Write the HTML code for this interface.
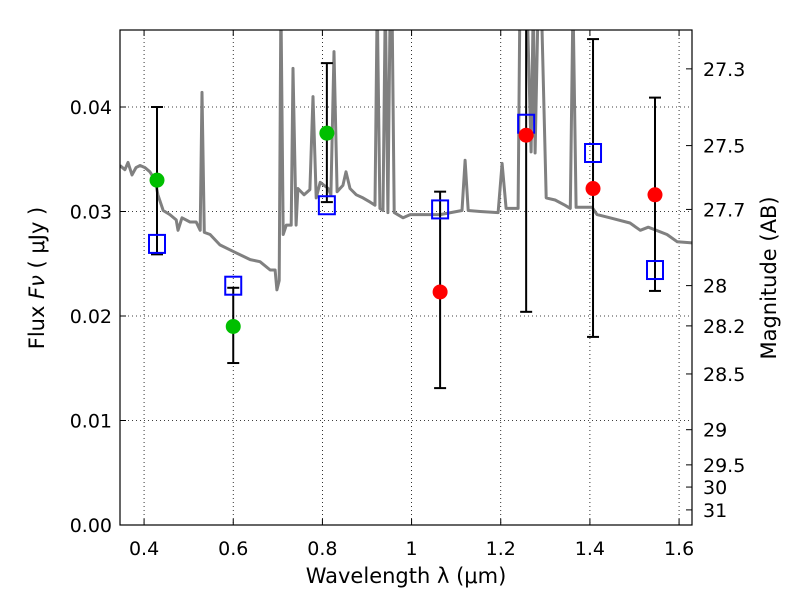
<!DOCTYPE html>
<html><head><meta charset="utf-8"><style>
body{margin:0;background:#fff;}
svg text{font-family:"DejaVu Sans","Liberation Sans",sans-serif;fill:#000;}
</style></head><body>
<svg id="chart" width="800" height="600" xmlns="http://www.w3.org/2000/svg">
<rect width="800" height="600" fill="#fff"/>
<g id="grid"></g>
<g id="spec"></g>
<g id="marks"></g>
<g id="axes"></g>
</svg>
<script>
const specW=[0.346,0.357,0.364,0.373,0.382,0.391,0.402,0.413,0.425,0.431,0.443,0.458,0.472,0.476,0.485,0.503,0.517,0.526,0.530,0.535,0.548,0.570,0.604,0.638,0.660,0.683,0.694,0.698,0.703,0.707,0.712,0.719,0.730,0.734,0.741,0.745,0.759,0.772,0.779,0.786,0.795,0.813,0.819,0.826,0.833,0.846,0.853,0.862,0.876,0.891,0.907,0.918,0.923,0.929,0.936,0.941,0.947,0.952,0.956,0.961,0.981,0.997,1.042,1.064,1.113,1.120,1.127,1.154,1.194,1.203,1.212,1.239,1.243,1.259,1.268,1.273,1.277,1.284,1.291,1.302,1.322,1.344,1.356,1.362,1.369,1.405,1.416,1.445,1.490,1.513,1.531,1.573,1.596,1.630];
const specF=[0.0344,0.0340,0.0347,0.0335,0.0342,0.0344,0.0342,0.0338,0.0330,0.0316,0.0301,0.0297,0.0292,0.0282,0.0294,0.0290,0.0290,0.0282,0.0414,0.0280,0.0278,0.0268,0.0261,0.0254,0.0252,0.0244,0.0244,0.0225,0.0234,0.06,0.0278,0.0287,0.0287,0.0437,0.0287,0.0322,0.0316,0.0321,0.0410,0.0313,0.0328,0.0322,0.0316,0.0453,0.0319,0.0325,0.0338,0.0322,0.0316,0.0313,0.0309,0.0306,0.06,0.0303,0.0301,0.06,0.0299,0.06,0.06,0.0299,0.0294,0.0297,0.0297,0.0297,0.0301,0.0349,0.0301,0.0300,0.0299,0.0346,0.0303,0.0303,0.06,0.06,0.0357,0.06,0.0356,0.06,0.06,0.0313,0.0311,0.0306,0.0303,0.06,0.0304,0.0304,0.0297,0.0294,0.0289,0.0282,0.0285,0.0278,0.0271,0.0270];
const bandW=[0.429,0.600,0.810,1.064,1.257,1.407,1.546];
const obsF=[0.0330,0.0190,0.0375,0.0223,0.0373,0.0322,0.0316];
const obsGroup=["g","g","g","r","r","r","r"];
const errLo=[0.0259,0.0155,0.0309,0.0131,0.0204,0.0180,0.0224];
const errHi=[0.0400,0.0227,0.0442,0.0319,0.0500,0.0465,0.0409];
const modelF=[0.0269,0.0229,0.0306,0.0302,0.0384,0.0356,0.0244];
const xTicks=[0.4,0.6,0.8,1.0,1.2,1.4,1.6];
const xTickLabels=["0.4","0.6","0.8","1","1.2","1.4","1.6"];
const yTicks=[0,0.01,0.02,0.03,0.04];
const yTickLabels=["0.00","0.01","0.02","0.03","0.04"];
const magTicks=[27.3,27.5,27.7,28,28.2,28.5,29,29.5,30,31];
const magTickLabels=["27.3","27.5","27.7","28","28.2","28.5","29","29.5","30","31"];

const L=120,R=692,T=30,B=525,xmin=0.346,xmax=1.629,ymin=0,ymax=0.04737;
const X=v=>L+(v-xmin)/(xmax-xmin)*(R-L);
const Y=v=>B-(v-ymin)/(ymax-ymin)*(B-T);
const magToF=m=>Math.pow(10,(23.9-m)/2.5);
const NS="http://www.w3.org/2000/svg";
function mk(tag,attrs,parent){const e=document.createElementNS(NS,tag);for(const k in attrs)e.setAttribute(k,attrs[k]);parent.appendChild(e);return e;}
const grid=document.getElementById('grid'),spec=document.getElementById('spec'),marks=document.getElementById('marks'),axes=document.getElementById('axes');

xTicks.forEach((v,i)=>{const x=X(v);
 let g=mk('line',{x1:x,x2:x,y1:T,y2:B,stroke:'#000','stroke-width':0.8,'stroke-dasharray':'1,3'},grid);
 
 mk('line',{x1:x,x2:x,y1:B,y2:B-6,stroke:'#000'},axes);mk('line',{x1:x,x2:x,y1:T,y2:T+6,stroke:'#000'},axes);
 let t=mk('text',{x:x,y:555,'font-size':19,'text-anchor':'middle'},axes);t.textContent=xTickLabels[i];
 });
yTicks.forEach((v,i)=>{const y=Y(v);
 let g=mk('line',{x1:L,x2:R,y1:y,y2:y,stroke:'#000','stroke-width':0.8,'stroke-dasharray':'1,3'},grid);
 
 mk('line',{x1:L,x2:L+6,y1:y,y2:y,stroke:'#000'},axes);
 let t=mk('text',{x:112,y:y+7,'font-size':19,'text-anchor':'end'},axes);t.textContent=yTickLabels[i];
 });
magTicks.forEach((m,i)=>{const y=Y(magToF(m));
 mk('line',{x1:R,x2:R-6,y1:y,y2:y,stroke:'#000'},axes);
 let t=mk('text',{x:703,y:y+7,'font-size':19},axes);t.textContent=magTickLabels[i];
 });

const defs=mk('defs',{},document.getElementById('chart'));const cp=mk('clipPath',{id:'clip'},defs);mk('rect',{x:L,y:T,width:R-L,height:B-T},cp);
let d='';specW.forEach((w,i)=>{d+=(i?'L':'M')+X(w).toFixed(1)+','+Math.max(Y(specF[i]),0).toFixed(1);});
let sp=mk('path',{d:d,fill:'none',stroke:'#808080','stroke-width':3,'stroke-linejoin':'round','clip-path':'url(#clip)'},spec);

marks.setAttribute('clip-path','url(#clip)');

bandW.forEach((w,i)=>{const x=X(w);
 let e=mk('line',{x1:x,x2:x,y1:Y(errHi[i]),y2:Y(errLo[i]),stroke:'#000','stroke-width':2},marks);
 
 [errHi[i],errLo[i]].forEach(v=>mk('line',{x1:x-6,x2:x+6,y1:Y(v),y2:Y(v),stroke:'#000','stroke-width':2},marks));
 let s=mk('rect',{x:x-8,y:Y(modelF[i])-9,width:16,height:18,fill:'none',stroke:'#0000ff','stroke-width':2},marks);
 
 let c=mk('circle',{cx:x,cy:Y(obsF[i]),r:7.5,fill:obsGroup[i]==='g'?'#00bf00':'#ff0000'},marks);
 });

let fr=mk('rect',{x:L,y:T,width:R-L,height:B-T,fill:'none',stroke:'#000','stroke-width':1.2},axes);

let xl=mk('text',{x:406,y:583,'font-size':21,'text-anchor':'middle'},axes);
xl.textContent='Wavelength  λ (μm)';
let yl=mk('text',{x:0,y:0,'font-size':21,'text-anchor':'middle',transform:'translate(44,278) rotate(-90)'},axes);

yl.appendChild(document.createTextNode('Flux  '));
let ft=mk('tspan',{'font-style':'italic'},yl);ft.textContent='Fν';
yl.appendChild(document.createTextNode('  ( μJy )'));
let rl=mk('text',{x:0,y:0,'font-size':21,'text-anchor':'middle',transform:'translate(776,278) rotate(-90)'},axes);
rl.textContent='Magnitude (AB)';
</script>
</body></html>
